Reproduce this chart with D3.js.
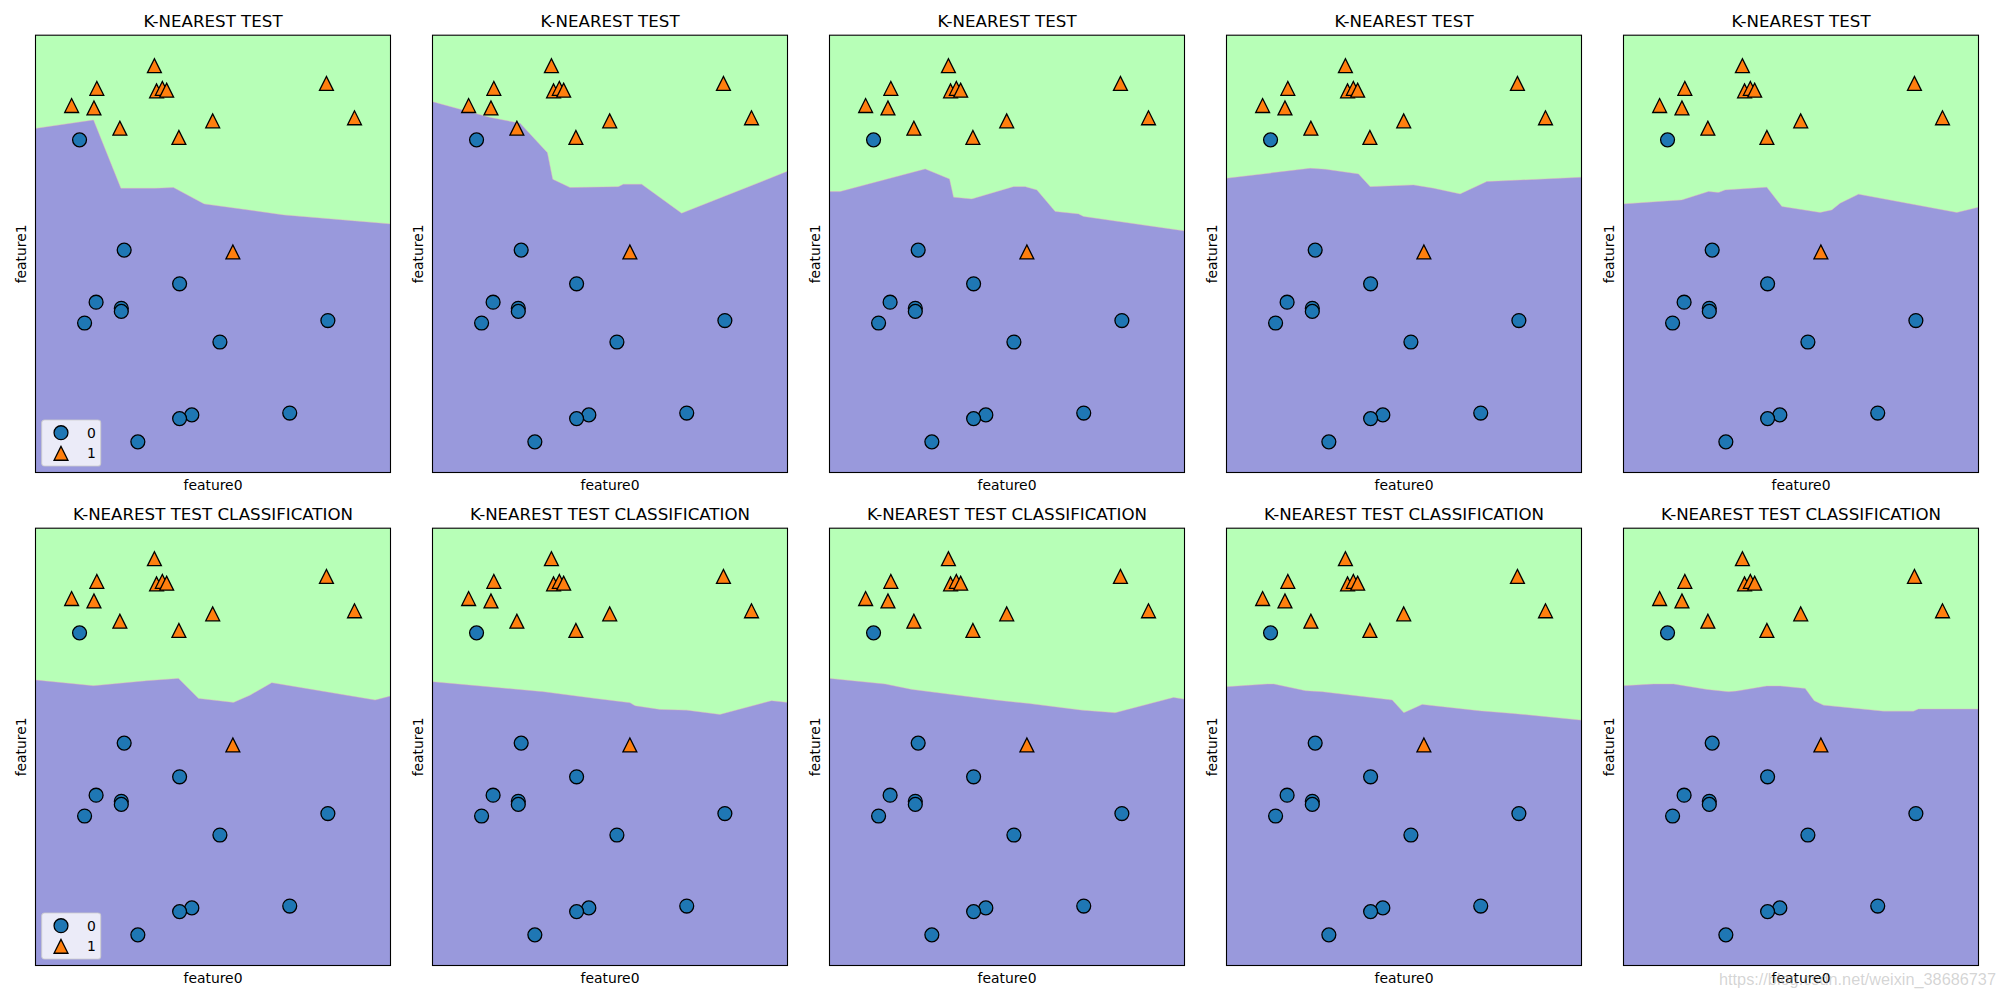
<!DOCTYPE html>
<html><head><meta charset="utf-8">
<script src="https://cdn.jsdelivr.net/npm/d3@7"></script>
<style>body{margin:0;background:#fff} svg{display:block}</style>
</head><body>
<svg id="chart" width="2000" height="1000"></svg>
<script>
// ---- data (forge-like points) ----
const feature0 = [9.96, 11.03, 11.54, 8.69, 8.11, 8.31, 11.93, 9.67, 8.35, 8.67, 9.18, 10.24, 8.69, 8.92, 9.49, 9.26, 8.00, 8.18, 8.73, 9.32, 10.06, 9.50, 8.34, 9.50, 9.15, 11.56];
const feature1 = [4.60, -0.17, 5.21, 1.54, 4.29, 4.81, 4.65, -0.20, 5.13, 4.48, 5.09, 2.46, 1.49, -0.64, 4.33, 5.13, 4.85, 1.30, 2.49, 5.10, 0.99, -0.26, 1.64, 1.94, 5.50, 1.34];
const labels   = [1, 0, 1, 0, 0, 1, 1, 0, 1, 1, 1, 1, 0, 0, 1, 1, 1, 0, 0, 1, 0, 0, 0, 0, 1, 0];
const classNames = ["0", "1"];
const xDomain = [7.498, 12.430];
const yDomain = [-1.140, 5.998];
const rowTitles = ["K-NEAREST TEST", "K-NEAREST TEST CLASSIFICATION"];
const xLabel = "feature0";
const yLabel = "feature1";

// decision boundaries (feature0, feature1) per panel, left to right
const boundaryTop1 = [[7.498,4.477],[8.304,4.613],[8.684,3.499],[9.165,3.499],[9.415,3.510],[9.841,3.244],[10.943,3.065],[12.430,2.918]];
const boundaryTop2 = [[7.498,4.912],[8.298,4.656],[8.715,4.559],[9.094,4.081],[9.168,3.646],[9.409,3.510],[10.080,3.526],[10.149,3.564],[10.404,3.564],[10.959,3.092],[12.430,3.776]];
const boundaryTop3 = [[7.498,3.445],[7.646,3.445],[8.827,3.814],[9.165,3.651],[9.221,3.353],[9.475,3.325],[10.054,3.526],[10.216,3.526],[10.379,3.472],[10.633,3.119],[10.957,3.081],[11.027,3.038],[12.430,2.804]];
const boundaryTop4 = [[7.498,3.662],[8.660,3.825],[8.869,3.809],[9.332,3.733],[9.494,3.526],[10.096,3.554],[10.374,3.499],[10.744,3.407],[11.115,3.608],[12.430,3.679]];
const boundaryTop5 = [[7.498,3.244],[8.308,3.309],[8.679,3.445],[8.818,3.429],[8.910,3.472],[9.489,3.516],[9.698,3.201],[10.230,3.103],[10.392,3.146],[10.508,3.255],[10.763,3.402],[12.129,3.103],[12.430,3.190]];
const boundaryBottom1 = [[7.498,3.519],[8.304,3.426],[9.045,3.508],[9.485,3.546],[9.763,3.219],[10.249,3.154],[10.480,3.273],[10.781,3.475],[12.217,3.192],[12.430,3.257]];
const boundaryBottom2 = [[7.498,3.491],[8.160,3.421],[9.039,3.328],[9.756,3.219],[10.242,3.148],[10.311,3.099],[10.658,3.039],[11.028,3.028],[11.491,2.957],[12.208,3.181],[12.430,3.154]];
const boundaryBottom3 = [[7.498,3.546],[8.271,3.453],[8.642,3.366],[9.800,3.192],[10.263,3.137],[11.004,3.028],[11.467,2.985],[12.277,3.235],[12.430,3.208]];
const boundaryBottom4 = [[7.498,3.410],[8.063,3.453],[8.156,3.453],[8.596,3.344],[8.827,3.328],[9.800,3.192],[9.962,2.985],[10.216,3.121],[11.004,3.017],[11.467,2.974],[12.430,2.865]];
const boundaryBottom5 = [[7.498,3.426],[7.915,3.453],[8.193,3.453],[8.656,3.366],[8.957,3.328],[9.073,3.339],[9.489,3.421],[9.675,3.421],[10.022,3.382],[10.147,3.181],[10.277,3.110],[11.110,3.012],[11.527,3.012],[11.596,3.045],[12.430,3.045]];
const boundaries = [
  [boundaryTop1, boundaryTop2, boundaryTop3, boundaryTop4, boundaryTop5],
  [boundaryBottom1, boundaryBottom2, boundaryBottom3, boundaryBottom4, boundaryBottom5]
];
const watermark = "https://blog.csdn.net/weixin_38686737";

// ---- layout & style ----
const W = 355, H = 437.3;
const lefts = [35.5, 432.5, 829.5, 1226.5, 1623.5];
const tops = [35.2, 528.2];
const colGreen = "#b7ffb7", colPurple = "#9999dc";
const colClass = ["#1f77b4", "#ff7f0e"];
const MS = 13.9; // marker size px
const FONT = "'DejaVu Sans', sans-serif";

const svg = d3.select("#chart");
const points = feature0.map((f, i) => ({x: f, y: feature1[i], c: labels[i]}));

function triPath(cx, cy, s) {
  const h = s / 2;
  return `M${cx},${cy - h}L${cx - h},${cy + h}L${cx + h},${cy + h}Z`;
}

tops.forEach((top, r) => {
  lefts.forEach((left, c) => {
    const g = svg.append("g").attr("transform", `translate(${left},${top})`);
    const x = d3.scaleLinear().domain(xDomain).range([0, W]);
    const y = d3.scaleLinear().domain(yDomain).range([H, 0]);
    const clipId = `clip-${r}-${c}`;
    g.append("clipPath").attr("id", clipId).append("rect").attr("width", W).attr("height", H);
    const plot = g.append("g").attr("clip-path", `url(#${clipId})`);

    plot.append("rect").attr("width", W).attr("height", H).attr("fill", colGreen);
    const b = boundaries[r][c];
    const poly = b.concat([[xDomain[1], yDomain[0]], [xDomain[0], yDomain[0]]]);
    const line = d3.line().x(d => x(d[0])).y(d => y(d[1]));
    plot.append("path").attr("d", line(poly) + "Z").attr("fill", colPurple);
    plot.append("path").attr("d", line(b)).attr("fill", "none")
      .attr("stroke", "#e8a8c0").attr("stroke-width", 0.8).attr("stroke-opacity", 0.55);

    points.forEach(p => {
      if (p.c === 0) {
        plot.append("circle").attr("cx", x(p.x)).attr("cy", y(p.y)).attr("r", MS / 2)
          .attr("fill", colClass[0]).attr("stroke", "#000").attr("stroke-width", 1.3);
      }
    });
    points.forEach(p => {
      if (p.c === 1) {
        plot.append("path").attr("d", triPath(x(p.x), y(p.y), MS))
          .attr("fill", colClass[1]).attr("stroke", "#000").attr("stroke-width", 1.3)
          .attr("stroke-linejoin", "miter");
      }
    });

    g.append("rect").attr("width", W).attr("height", H).attr("fill", "none")
      .attr("stroke", "#000").attr("stroke-width", 1.1);

    g.append("text").attr("x", W / 2).attr("y", -8.3).attr("text-anchor", "middle")
      .attr("font-family", FONT).attr("font-size", 16.67).attr("fill", "#000").text(rowTitles[r]);
    g.append("text").attr("x", W / 2).attr("y", H + 17.5).attr("text-anchor", "middle")
      .attr("font-family", FONT).attr("font-size", 13.9).attr("fill", "#000").text(xLabel);
    g.append("text").attr("transform", `translate(-9.5,${H / 2}) rotate(-90)`).attr("text-anchor", "middle")
      .attr("font-family", FONT).attr("font-size", 13.9).attr("fill", "#000").text(yLabel);

    if (c === 0) {
      const lg = g.append("g").attr("transform", `translate(6.2,${H - 52.5})`);
      lg.append("rect").attr("width", 59).attr("height", 46).attr("rx", 2.8)
        .attr("fill", "#ffffff").attr("fill-opacity", 0.8)
        .attr("stroke", "#cccccc").attr("stroke-opacity", 0.8).attr("stroke-width", 1.1);
      lg.append("circle").attr("cx", 19.3).attr("cy", 12.7).attr("r", MS / 2)
        .attr("fill", colClass[0]).attr("stroke", "#000").attr("stroke-width", 1.3);
      lg.append("path").attr("d", triPath(19.3, 33.3, MS))
        .attr("fill", colClass[1]).attr("stroke", "#000").attr("stroke-width", 1.3);
      classNames.forEach((n, i) => {
        lg.append("text").attr("x", 45.3).attr("y", 12.7 + i * 20.6 + 5)
          .attr("font-family", FONT).attr("font-size", 13.9).attr("fill", "#000").text(n);
      });
    }
  });
});

svg.append("text").attr("x", 1719).attr("y", 985).attr("font-family", "'Liberation Sans', Arial, sans-serif")
  .attr("font-size", 16.3).attr("fill", "#a0a0a0").attr("fill-opacity", 0.45).text(watermark);
</script>
</body></html>
